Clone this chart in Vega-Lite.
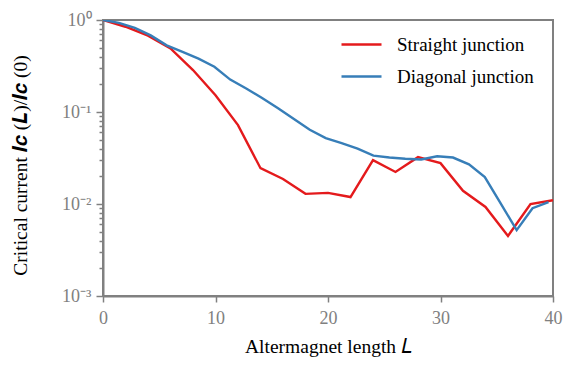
{
  "$schema": "https://vega.github.io/schema/vega-lite/v6.json",
  "width": 450,
  "height": 276,
  "autosize": "none",
  "padding": {"left": 103, "top": 20, "right": 11, "bottom": 72},
  "background": "white",
  "config": {
    "font": "Liberation Serif, Times New Roman, serif",
    "view": {"stroke": "#808080", "strokeWidth": 2}
  },
  "data": {
    "values": [
      {"series": "Straight junction", "L": 0, "Ic": 1.0},
      {"series": "Straight junction", "L": 2, "Ic": 0.845},
      {"series": "Straight junction", "L": 4, "Ic": 0.675},
      {"series": "Straight junction", "L": 6, "Ic": 0.49},
      {"series": "Straight junction", "L": 8, "Ic": 0.286},
      {"series": "Straight junction", "L": 10, "Ic": 0.152},
      {"series": "Straight junction", "L": 12, "Ic": 0.072},
      {"series": "Straight junction", "L": 14, "Ic": 0.0245},
      {"series": "Straight junction", "L": 16, "Ic": 0.0187},
      {"series": "Straight junction", "L": 18, "Ic": 0.0129},
      {"series": "Straight junction", "L": 20, "Ic": 0.0132},
      {"series": "Straight junction", "L": 22, "Ic": 0.0119},
      {"series": "Straight junction", "L": 24, "Ic": 0.030},
      {"series": "Straight junction", "L": 26, "Ic": 0.0223},
      {"series": "Straight junction", "L": 28, "Ic": 0.0323},
      {"series": "Straight junction", "L": 30, "Ic": 0.0278},
      {"series": "Straight junction", "L": 32, "Ic": 0.0139},
      {"series": "Straight junction", "L": 34, "Ic": 0.0093},
      {"series": "Straight junction", "L": 36, "Ic": 0.0045},
      {"series": "Straight junction", "L": 38, "Ic": 0.0100},
      {"series": "Straight junction", "L": 40, "Ic": 0.011},
      {"series": "Diagonal junction", "L": 0, "Ic": 1.0},
      {"series": "Diagonal junction", "L": 1.41, "Ic": 0.93},
      {"series": "Diagonal junction", "L": 2.83, "Ic": 0.82},
      {"series": "Diagonal junction", "L": 4.24, "Ic": 0.68},
      {"series": "Diagonal junction", "L": 5.66, "Ic": 0.53},
      {"series": "Diagonal junction", "L": 7.07, "Ic": 0.45},
      {"series": "Diagonal junction", "L": 8.49, "Ic": 0.38},
      {"series": "Diagonal junction", "L": 9.9, "Ic": 0.31},
      {"series": "Diagonal junction", "L": 11.31, "Ic": 0.225},
      {"series": "Diagonal junction", "L": 12.73, "Ic": 0.18},
      {"series": "Diagonal junction", "L": 14.14, "Ic": 0.142},
      {"series": "Diagonal junction", "L": 15.56, "Ic": 0.11},
      {"series": "Diagonal junction", "L": 16.97, "Ic": 0.084},
      {"series": "Diagonal junction", "L": 18.38, "Ic": 0.064},
      {"series": "Diagonal junction", "L": 19.8, "Ic": 0.052},
      {"series": "Diagonal junction", "L": 21.21, "Ic": 0.046},
      {"series": "Diagonal junction", "L": 22.63, "Ic": 0.040},
      {"series": "Diagonal junction", "L": 24.04, "Ic": 0.0335},
      {"series": "Diagonal junction", "L": 25.46, "Ic": 0.032},
      {"series": "Diagonal junction", "L": 26.87, "Ic": 0.031},
      {"series": "Diagonal junction", "L": 28.28, "Ic": 0.0305},
      {"series": "Diagonal junction", "L": 29.7, "Ic": 0.033},
      {"series": "Diagonal junction", "L": 31.11, "Ic": 0.032},
      {"series": "Diagonal junction", "L": 32.53, "Ic": 0.027},
      {"series": "Diagonal junction", "L": 33.94, "Ic": 0.0196},
      {"series": "Diagonal junction", "L": 35.36, "Ic": 0.0101},
      {"series": "Diagonal junction", "L": 36.77, "Ic": 0.0052},
      {"series": "Diagonal junction", "L": 38.18, "Ic": 0.009},
      {"series": "Diagonal junction", "L": 39.6, "Ic": 0.0105}
    ]
  },
  "mark": {"type": "line", "strokeWidth": 2.4, "clip": true},
  "encoding": {
    "x": {
      "field": "L",
      "type": "quantitative",
      "scale": {"domain": [0, 40], "nice": false},
      "axis": {
        "values": [0, 10, 20, 30, 40],
        "title": "Altermagnet length 𝐿",
        "titleFont": "Liberation Serif, Times New Roman, serif",
        "titleFontSize": 19.5,
        "titleFontWeight": "normal",
        "titleColor": "black",
        "titlePadding": 10,
        "labelFont": "Liberation Serif, Times New Roman, serif",
        "labelFontSize": 18,
        "labelColor": "#808080",
        "labelPadding": 7,
        "grid": false,
        "domainColor": "#808080",
        "domainWidth": 2,
        "tickColor": "#808080",
        "tickWidth": 1.5,
        "tickSize": 6,
        "labelFlush": false
      }
    },
    "y": {
      "field": "Ic",
      "type": "quantitative",
      "scale": {"type": "log", "domain": [0.001, 1], "nice": false},
      "axis": {
        "values": [0.001, 0.002, 0.003, 0.004, 0.005, 0.006, 0.007, 0.008, 0.009, 0.01, 0.02, 0.03, 0.04, 0.05, 0.06, 0.07, 0.08, 0.09, 0.1, 0.2, 0.3, 0.4, 0.5, 0.6, 0.7, 0.8, 0.9, 1],
        "labelExpr": "datum.value == 1 ? '10⁰' : datum.value == 0.1 ? '10⁻¹' : datum.value == 0.01 ? '10⁻²' : datum.value == 0.001 ? '10⁻³' : ''",
        "title": "Critical current 𝑰𝒄 (𝑳)/𝑰𝒄 (0)",
        "titleFont": "Liberation Serif, Times New Roman, serif",
        "titleFontSize": 19.5,
        "titleFontWeight": "normal",
        "titleColor": "black",
        "titleX": -83,
        "titleY": 145,
        "titleBaseline": "middle",
        "titleAlign": "center",
        "titleAngle": -90,
        "labelFont": "Liberation Serif, Times New Roman, serif",
        "labelFontSize": 18,
        "labelColor": "#808080",
        "labelPadding": 5,
        "grid": false,
        "domainColor": "#808080",
        "domainWidth": 2,
        "tickColor": "#808080",
        "tickWidth": 1.5,
        "tickSize": {"condition": {"test": "datum.value == 1 || datum.value == 0.1 || datum.value == 0.01 || datum.value == 0.001", "value": 7}, "value": 4},
        "labelFlush": false
      }
    },
    "color": {
      "field": "series",
      "type": "nominal",
      "scale": {"domain": ["Straight junction", "Diagonal junction"], "range": ["#e41a1c", "#377eb8"]},
      "legend": {
        "title": null,
        "orient": "none",
        "legendX": 237,
        "legendY": 3,
        "symbolType": "stroke",
        "symbolSize": 1600,
        "symbolStrokeWidth": 2.5,
        "labelFontSize": 19,
        "labelFont": "Liberation Serif, Times New Roman, serif",
        "labelColor": "black",
        "labelOffset": 14,
        "rowPadding": -16
      }
    }
  }
}
